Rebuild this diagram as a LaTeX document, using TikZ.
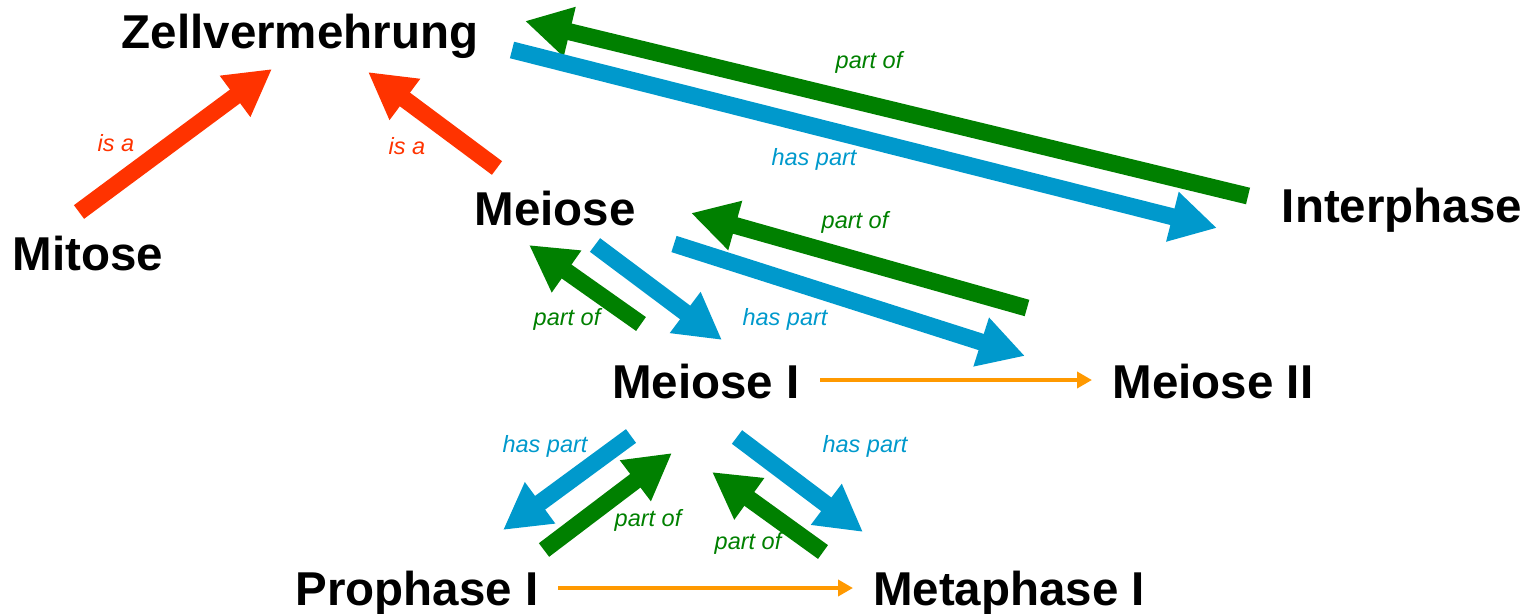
\documentclass[tikz,border=0pt]{standalone}
\usepackage{fontspec}
\setmainfont{Liberation Sans}
\usetikzlibrary{arrows.meta}
\definecolor{isared}{HTML}{FF3300}
\definecolor{partgreen}{HTML}{008000}
\definecolor{hasblue}{HTML}{0099CC}
\definecolor{nextorange}{HTML}{FF9900}
\tikzset{
  term/.style={anchor=base, inner sep=0pt, font=\fontsize{47.5}{50}\selectfont\bfseries},
  rel/.style={inner sep=0pt, font=\fontsize{23.5}{26}\selectfont\itshape},
  fat/.style={line width=17pt, -{Triangle[length=46pt, width=48pt]}},
  isa/.style={fat, draw=isared, fill=isared},
  partof/.style={fat, draw=partgreen, fill=partgreen},
  haspart/.style={fat, draw=hasblue, fill=hasblue},
  follows/.style={line width=4pt, draw=nextorange, -{Triangle[length=15pt, width=16pt]}},
}
\begin{document}
\begin{tikzpicture}[x=1pt, y=-1pt]
\useasboundingbox (0,0) rectangle (1531,613);

% terms
\node[term] (zell)  at (300,48)   {Zellvermehrung};
\node[term] (mit)   at (88,270)   {Mitose};
\node[term] (mei)   at (555,225)  {Meiose};
\node[term] (inter) at (1402,222) {Interphase};
\node[term] (m1)    at (706,398)  {Meiose I};
\node[term] (m2)    at (1213,398) {Meiose II};
\node[term] (pro)   at (417,605)  {Prophase I};
\node[term] (meta)  at (1009,605) {Metaphase I};

% arrow end points
\coordinate (mit-o)   at (79,212);   \coordinate (zell-a)  at (272,69);
\coordinate (mei-o)   at (497,168);  \coordinate (zell-b)  at (368,72);
\coordinate (inter-o) at (1248,196); \coordinate (zell-c)  at (525,21);
\coordinate (zell-o)  at (512,50);   \coordinate (inter-a) at (1217,228);
\coordinate (m1-o)    at (641,324);  \coordinate (mei-a)   at (529,245);
\coordinate (mei-o2)  at (595,245);  \coordinate (m1-a)    at (722,340);
\coordinate (m2-o)    at (1027,308); \coordinate (mei-b)   at (691,213);
\coordinate (mei-o3)  at (674,244);  \coordinate (m2-a)    at (1025,356);
\coordinate (m1-o2)   at (631,436);  \coordinate (pro-a)   at (503,530);
\coordinate (pro-o)   at (544,550);  \coordinate (m1-b)    at (672,453);
\coordinate (meta-o)  at (823,552);  \coordinate (m1-c)    at (712,472);
\coordinate (m1-o3)   at (737,437);  \coordinate (meta-a)  at (863,532);
\coordinate (m1-s)    at (820,380);  \coordinate (m2-s)    at (1092,380);
\coordinate (pro-s)   at (558,588);  \coordinate (meta-s)  at (853,588);

% is a
\draw[isa] (mit-o) -- (zell-a);
\draw[isa] (mei-o) -- (zell-b);
\node[rel, text=isared] at (116,143) {is a};
\node[rel, text=isared] at (407,146) {is a};

% Interphase
\draw[partof]  (inter-o) -- (zell-c);
\draw[haspart] (zell-o) -- (inter-a);
\node[rel, text=partgreen] at (869,62)  {part of};
\node[rel, text=hasblue]   at (814,159) {has part};

% Meiose I / Meiose II
\draw[partof]  (m1-o) -- (mei-a);
\draw[haspart] (mei-o2) -- (m1-a);
\draw[partof]  (m2-o) -- (mei-b);
\draw[haspart] (mei-o3) -- (m2-a);
\node[rel, text=partgreen] at (855,222) {part of};
\node[rel, text=partgreen] at (567,319) {part of};
\node[rel, text=hasblue]   at (785,319) {has part};

% phases of Meiose I
\draw[haspart] (m1-o2) -- (pro-a);
\draw[partof]  (pro-o) -- (m1-b);
\draw[partof]  (meta-o) -- (m1-c);
\draw[haspart] (m1-o3) -- (meta-a);
\node[rel, text=hasblue]   at (545,446) {has part};
\node[rel, text=hasblue]   at (865,446) {has part};
\node[rel, text=partgreen] at (648,520) {part of};
\node[rel, text=partgreen] at (748,543) {part of};

% sequence
\draw[follows] (m1-s) -- (m2-s);
\draw[follows] (pro-s) -- (meta-s);
\end{tikzpicture}
\end{document}
